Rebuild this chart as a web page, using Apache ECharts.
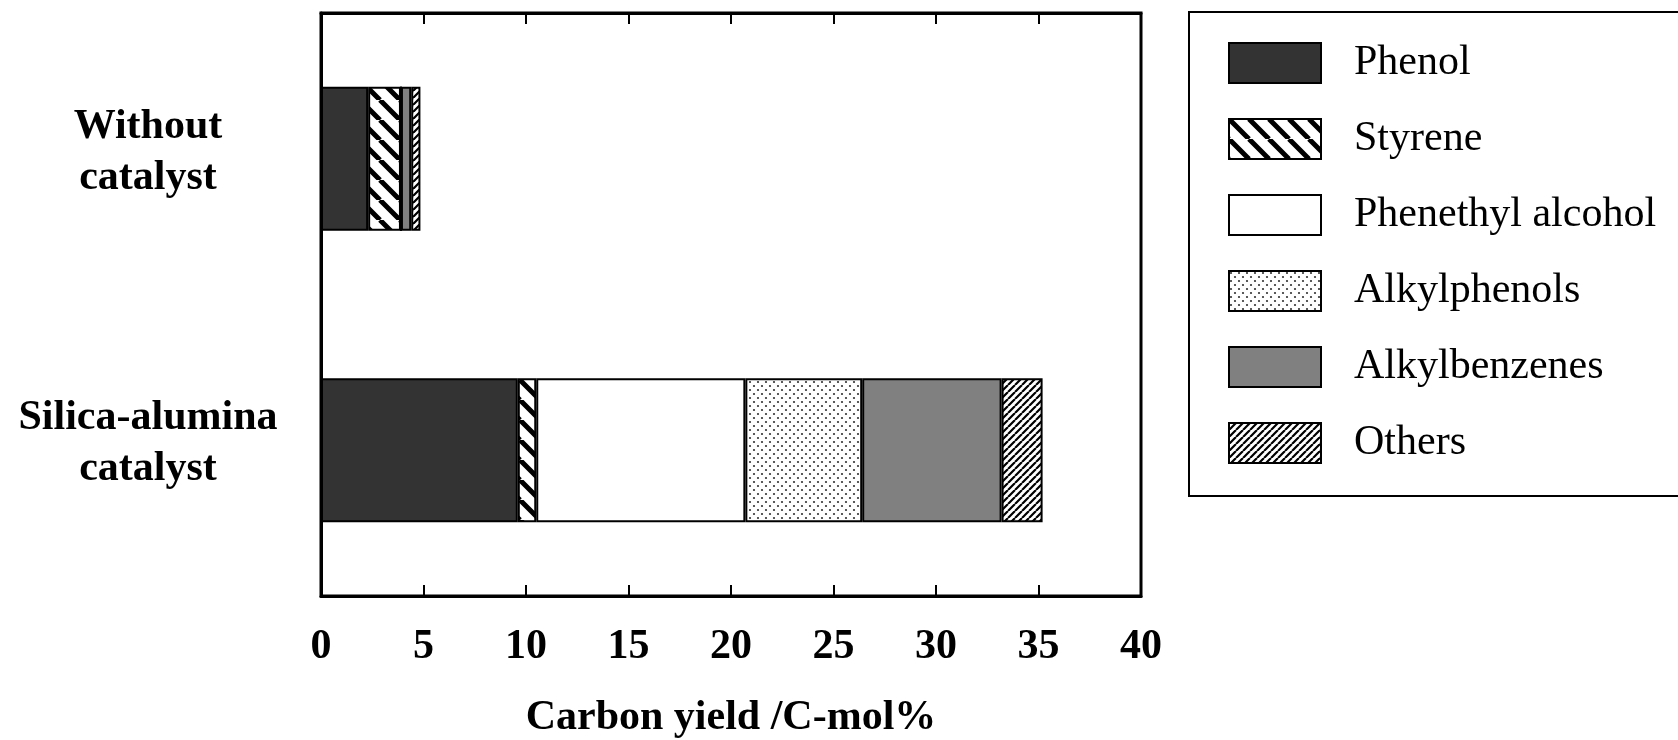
<!DOCTYPE html>
<html>
<head>
<meta charset="utf-8">
<script src="https://cdn.jsdelivr.net/npm/echarts@6/dist/echarts.min.js"></script>
<style>
  html, body { margin: 0; padding: 0; background: #fff; }
  #chart { width: 1678px; height: 740px; }
</style>
</head>
<body>
<div id="chart"></div>
<script>
// data
var categories = ["Without\ncatalyst", "Silica-alumina\ncatalyst"];
var phenol = [2.3, 9.6];
var styrene = [1.6, 0.9];
var phenethylAlcohol = [0, 10.2];
var alkylphenols = [0, 5.7];
var alkylbenzenes = [0.5, 6.8];
var others = [0.45, 2.0];
var xTicks = [0, 5, 10, 15, 20, 25, 30, 35, 40];

var FONT = "'Liberation Serif', 'Times New Roman', serif";

// hatch fills
function stripes(size, width, back) {
  var c = document.createElement("canvas");
  c.width = size; c.height = size;
  var g = c.getContext("2d");
  g.fillStyle = "#fff";
  g.fillRect(0, 0, size, size);
  g.strokeStyle = "#000";
  g.lineWidth = width;
  g.beginPath();
  for (var k = -1; k <= 1; k++) {
    if (back) {
      g.moveTo(k * size, 0); g.lineTo(k * size + size, size);
    } else {
      g.moveTo(k * size, size); g.lineTo(k * size + size, 0);
    }
  }
  g.stroke();
  return { image: c, repeat: "repeat" };
}

function dots() {
  var c = document.createElement("canvas");
  c.width = 8; c.height = 8;
  var g = c.getContext("2d");
  g.fillStyle = "#fff";
  g.fillRect(0, 0, 8, 8);
  g.fillStyle = "#333";
  g.beginPath(); g.arc(2, 2, 1.1, 0, Math.PI * 2); g.fill();
  g.beginPath(); g.arc(6, 6, 1.1, 0, Math.PI * 2); g.fill();
  return { image: c, repeat: "repeat" };
}

function bar(name, data, fill) {
  return {
    name: name,
    type: "bar",
    stack: "total",
    barWidth: 144,
    data: data,
    itemStyle: { color: fill, borderColor: "#000", borderWidth: 2 }
  };
}

var chart = echarts.init(document.getElementById("chart"));
chart.setOption({
  animation: false,
  textStyle: { fontFamily: FONT, color: "#000" },
  grid: {
    left: 321, right: 537, top: 13, bottom: 144,
    outerBoundsMode: "none",
    show: true, borderColor: "#000", borderWidth: 3
  },
  legend: {
    orient: "vertical",
    left: 1189, top: 12,
    padding: [30, 40, 32, 39],
    borderColor: "#000", borderWidth: 2,
    icon: "rect",
    itemWidth: 92, itemHeight: 40, itemGap: 34,
    textStyle: { fontFamily: FONT, fontSize: 42, color: "#000", padding: [0, 0, 0, 28] },
    data: ["Phenol", "Styrene", "Phenethyl alcohol", "Alkylphenols", "Alkylbenzenes", "Others"]
  },
  xAxis: [
    {
      type: "value", min: 0, max: 40, interval: 5, position: "bottom",
      name: "Carbon yield /C-mol%", nameLocation: "middle", nameGap: 101,
      nameTextStyle: { fontFamily: FONT, fontSize: 42, fontWeight: "bold", color: "#000" },
      axisLine: { show: true, lineStyle: { color: "#000", width: 3 } },
      axisTick: { show: true, inside: true, length: 11, lineStyle: { color: "#000", width: 2 } },
      axisLabel: {
        margin: 30, fontFamily: FONT, fontSize: 42, fontWeight: "bold", color: "#000",
        formatter: function (v) { return xTicks.indexOf(v) >= 0 ? String(v) : ""; }
      },
      splitLine: { show: false }
    },
    {
      type: "value", min: 0, max: 40, interval: 5, position: "top",
      axisLine: { show: true, lineStyle: { color: "#000", width: 3 } },
      axisTick: { show: true, inside: true, length: 11, lineStyle: { color: "#000", width: 2 } },
      axisLabel: { show: false },
      splitLine: { show: false }
    }
  ],
  yAxis: {
    type: "category",
    inverse: true,
    data: categories,
    axisLine: { show: true, lineStyle: { color: "#000", width: 3 } },
    axisTick: { show: false },
    axisLabel: {
      margin: 173, align: "center",
      formatter: function (v) {
        // trailing spacer line lifts the two-line label a little above the bar centre
        return v.split("\n").map(function (s) { return "{t|" + s + "}"; }).join("\n") + "\n{s| }";
      },
      rich: {
        t: { fontFamily: FONT, fontSize: 42, fontWeight: "bold", color: "#000", lineHeight: 51, align: "center" },
        s: { fontSize: 10, lineHeight: 13 }
      }
    }
  },
  series: [
    bar("Phenol", phenol, "#333333"),
    bar("Styrene", styrene, stripes(20, 5, true)),
    bar("Phenethyl alcohol", phenethylAlcohol, "#ffffff"),
    bar("Alkylphenols", alkylphenols, dots()),
    bar("Alkylbenzenes", alkylbenzenes, "#808080"),
    bar("Others", others, stripes(7, 2.2, false))
  ]
});
</script>
</body>
</html>
